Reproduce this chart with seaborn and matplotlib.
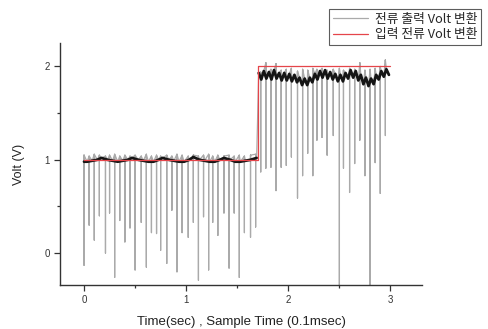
import numpy as np
import pandas as pd
import matplotlib
matplotlib.use("Agg")
import matplotlib.pyplot as plt
import seaborn as sns
from matplotlib.ticker import MultipleLocator

# ---- data ----
# spike times / bottoms / tops (gray output trace)
spike_t = [0.00, 0.05, 0.10, 0.15, 0.21, 0.25, 0.30, 0.35, 0.40, 0.45, 0.50, 0.56,
           0.61, 0.66, 0.71, 0.75, 0.81, 0.86, 0.91, 0.96, 1.02, 1.07, 1.12, 1.17,
           1.22, 1.26, 1.31, 1.37, 1.42, 1.47, 1.52, 1.57, 1.63, 1.68,
           1.73, 1.78, 1.83, 1.88, 1.93, 1.98, 2.03, 2.09, 2.14, 2.19, 2.24, 2.28,
           2.33, 2.38, 2.44, 2.50, 2.54, 2.60, 2.65, 2.70, 2.75, 2.80, 2.85, 2.90, 2.95]
spike_low = [-0.13, 0.30, 0.14, 0.40, 0.00, 0.43, -0.26, 0.35, 0.12, 0.27, -0.18, 0.33,
             -0.15, 0.22, 0.21, 0.03, -0.11, 0.46, -0.20, 0.22, 0.17, 0.33, -0.29, 0.39,
             -0.18, 0.33, 0.19, 0.43, -0.16, 0.43, -0.26, 0.22, 0.17, 0.28,
             0.87, 0.91, 0.92, 0.67, 0.92, 0.94, 1.03, 0.59, 0.83, 1.07, 0.83, 1.21,
             1.24, 1.05, 1.26, -0.60, 0.91, 0.65, 0.96, 1.21, 0.83, -0.60, 0.97, 0.64, 1.26]
spike_high = [1.05, 1.04, 1.06, 1.05, 1.04, 1.05, 1.06, 1.04, 1.05, 1.04, 1.05, 1.04,
              1.06, 1.04, 1.05, 1.04, 1.05, 1.04, 1.06, 1.05, 1.04, 1.05, 1.04, 1.05,
              1.06, 1.04, 1.05, 1.04, 1.05, 1.04, 1.05, 1.04, 1.05, 1.06,
              1.94, 2.04, 1.97, 2.03, 1.96, 1.97, 1.98, 1.95, 1.97, 1.96, 1.98, 1.97,
              1.98, 1.96, 1.97, 1.98, 1.96, 1.98, 1.97, 2.04, 1.96, 1.97, 1.98, 2.00, 2.07]

# slow baseline of the output trace (dense black band)
base1_t = [0.00, 0.03, 0.08, 0.13, 0.17, 0.23, 0.28, 0.33, 0.38, 0.43, 0.47, 0.53,
           0.58, 0.63, 0.68, 0.73, 0.77, 0.83, 0.88, 0.93, 0.98, 1.03, 1.07, 1.13,
           1.18, 1.23, 1.28, 1.33, 1.37, 1.43, 1.48, 1.53, 1.58, 1.63, 1.69]
base1_v = [0.98, 0.98, 0.99, 1.00, 1.02, 1.00, 0.99, 0.98, 0.99, 1.00, 1.02, 1.00,
           0.99, 0.98, 0.98, 1.00, 1.02, 1.00, 0.99, 0.98, 0.98, 1.00, 1.03, 1.00,
           0.99, 0.98, 0.98, 1.00, 1.02, 1.00, 0.98, 0.98, 0.99, 1.00, 1.02]
base2_t = [1.710, 1.735, 1.760, 1.785, 1.810, 1.835, 1.860, 1.885, 1.910, 1.935,
           1.960, 1.985, 2.010, 2.035, 2.060, 2.085, 2.110, 2.135, 2.160, 2.185,
           2.210, 2.235, 2.260, 2.285, 2.310, 2.335, 2.360, 2.385, 2.410, 2.435,
           2.460, 2.485, 2.510, 2.535, 2.560, 2.585, 2.610, 2.635, 2.660, 2.685,
           2.710, 2.735, 2.760, 2.785, 2.810, 2.835, 2.860, 2.885, 2.910, 2.935,
           2.960, 2.985]
base2_v = [1.93, 1.86, 1.95, 1.87, 1.94, 1.86, 1.96, 1.87, 1.93, 1.85,
           1.93, 1.85, 1.92, 1.84, 1.91, 1.83, 1.88, 1.80, 1.87, 1.80,
           1.88, 1.83, 1.92, 1.86, 1.95, 1.88, 1.96, 1.87, 1.94, 1.86,
           1.92, 1.84, 1.91, 1.84, 1.93, 1.87, 1.96, 1.88, 1.95, 1.85,
           1.91, 1.81, 1.88, 1.79, 1.87, 1.81, 1.91, 1.86, 1.95, 1.89,
           1.97, 1.91]

# input reference (red)
ref_t = [0.0, 1.70, 1.70, 3.0]
ref_v = [1.0, 1.0, 2.0, 2.0]

label_out = "전류 출력 Volt 변환"
label_in = "입력 전류 Volt 변환"

# build the gray output trace: baseline knots plus spike triples
base_t = base1_t + base2_t
base_v = base1_v + base2_v
rows = [(t, v, 0) for t, v in zip(base_t, base_v)]
for t, lo, hi in zip(spike_t, spike_low, spike_high):
    rows += [(t, hi, 1), (t, lo, 2), (t, hi, 3)]
out = pd.DataFrame(rows, columns=["t", "v", "k"]).sort_values(["t", "k"], kind="stable")
seg1 = pd.DataFrame({"t": base1_t, "v": base1_v})
seg2 = pd.DataFrame({"t": base2_t, "v": base2_v})
ref = pd.DataFrame({"t": ref_t, "v": ref_v})

sns.set_style("ticks")
plt.rcParams["font.family"] = ["Liberation Sans", "Noto Sans CJK KR", "DejaVu Sans"]

fig = plt.figure(figsize=(4.88, 3.29), dpi=100)
ax = fig.add_axes([0.123, 0.134, 0.742, 0.735])

sns.lineplot(data=out, x="t", y="v", sort=False, estimator=None, color="#aaaaaa",
             lw=0.9, ax=ax, label=label_out, zorder=2)
sns.lineplot(data=seg1, x="t", y="v", sort=False, estimator=None, color="#151515",
             lw=2.0, ax=ax, zorder=3, legend=False)
sns.lineplot(data=seg2, x="t", y="v", sort=False, estimator=None, color="#151515",
             lw=2.0, ax=ax, zorder=3, legend=False)
sns.lineplot(data=ref, x="t", y="v", sort=False, estimator=None, color="#e5454a",
             lw=0.9, ax=ax, label=label_in, zorder=4)

ax.set_xlim(-0.235, 3.31)
ax.set_ylim(-0.34, 2.25)
ax.xaxis.set_major_locator(MultipleLocator(1))
ax.xaxis.set_minor_locator(MultipleLocator(0.5))
ax.yaxis.set_major_locator(MultipleLocator(1))
ax.yaxis.set_minor_locator(MultipleLocator(0.5))
ax.tick_params(which="major", length=4, width=0.9, labelsize=7, colors="#333333",
               direction="out")
ax.tick_params(which="minor", length=2.5, width=0.9, direction="out", colors="#333333")
for s in ["top", "right"]:
    ax.spines[s].set_visible(False)
for s in ["left", "bottom"]:
    ax.spines[s].set_color("#333333")
    ax.spines[s].set_linewidth(1.0)

ax.set_xlabel("Time(sec) , Sample Time (0.1msec)", fontsize=9.5, color="#222222",
              labelpad=8)
ax.set_ylabel("Volt (V)", fontsize=9, color="#222222", labelpad=14)

ax.get_legend().remove()
handles, labels = ax.get_legend_handles_labels()
leg = fig.legend(handles, labels, loc="upper right", bbox_to_anchor=(0.999, 0.993),
                 frameon=True, fancybox=False, handlelength=2.8,
                 borderpad=0.3, labelspacing=0.2, handletextpad=0.5,
                 prop={"family": ["Noto Sans CJK KR", "DejaVu Sans"], "size": 9.2})
leg.get_frame().set_edgecolor("#333333")
leg.get_frame().set_linewidth(0.8)

fig.savefig("out.png", dpi=100)
